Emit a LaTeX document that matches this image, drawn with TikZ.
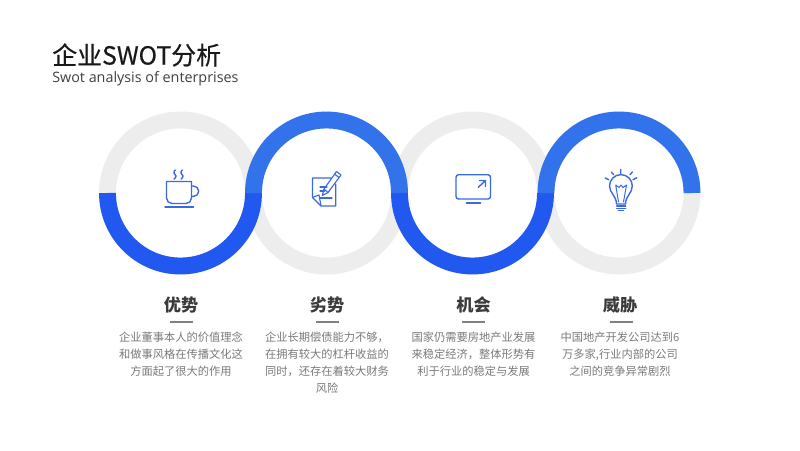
\documentclass[tikz,border=0pt]{standalone}
\usepackage{fontspec}
\setmainfont{Noto Sans CJK SC}
\newfontfamily\latinfont{Open Sans}
\newfontfamily\titlefont[FakeBold=0.4]{Noto Sans CJK SC}
\definecolor{ringgray}{HTML}{EDEDED}
\definecolor{arctop}{HTML}{3273EC}
\definecolor{arclow}{HTML}{2058F0}
\definecolor{iconblue}{HTML}{3A69E0}
\definecolor{headtext}{HTML}{3C3A3A}
\definecolor{bodytext}{HTML}{7A7A7A}
\tikzset{
  ringback/.style={draw=ringgray,circle,line width=12pt,minimum size=3.65cm,inner sep=0pt,outer sep=0pt},
  toparc/.style={draw=arctop,line width=12pt},
  lowarc/.style={draw=arclow,line width=12pt},
  icon/.style={draw=iconblue,line width=1pt,line cap=round,line join=round},
  head/.style={text=headtext,font=\fontsize{12.2}{14}\selectfont\bfseries},
  body/.style={text=bodytext,font=\fontsize{8}{12}\selectfont,align=center,anchor=north,inner sep=0pt},
  headrule/.style={draw=black!50,line width=0.8pt}
}
\begin{document}
\begin{tikzpicture}[x=0.025cm,y=0.025cm]
\useasboundingbox (0,0) rectangle (800,450);
\fill[white] (0,0) rectangle (800,450);
% title
\node[anchor=west,inner sep=0pt,text=black!90,font=\fontsize{17.7}{20}\selectfont\titlefont] (title) at (52,395) {企业SWOT分析};
\node[anchor=west,inner sep=0pt,text=black!75,font=\fontsize{10.2}{13}\selectfont\latinfont] (subtitle) at (52,371) {Swot analysis of enterprises};
% rings
\node[ringback] (ring1) at (180.5,257) {};
\node[ringback] (ring2) at (326.5,257) {};
\node[ringback] (ring3) at (472.5,257) {};
\node[ringback] (ring4) at (619,257) {};
\draw[lowarc] (ring1.west) arc[start angle=180,end angle=360,radius=73];
\draw[toparc] (ring2.west) arc[start angle=180,end angle=0,radius=73];
\draw[lowarc] (ring3.west) arc[start angle=180,end angle=360,radius=73];
\draw[toparc] (ring4.west) arc[start angle=180,end angle=0,radius=73];
% cup
\draw[icon] (166.5,268.5) -- (191.5,268.5) -- (191.5,252) to[out=-90,in=0] (186,246.5) -- (172,246.5) to[out=180,in=-90] (166.5,252) -- cycle;
\draw[icon] (191.5,264) -- (193.5,264) arc[start angle=90,end angle=-90,radius=5.2] -- (191.5,253.6);
\draw[icon] (165,243) -- (193.5,243);
\draw[icon] (175.5,280) to[out=200,in=90] (174,277) to[out=-90,in=90] (176,274) to[out=-90,in=30] (174,271);
\draw[icon] (182.5,280) to[out=200,in=90] (181,277) to[out=-90,in=90] (183,274) to[out=-90,in=30] (181,271);
% note and pencil
\draw[icon,line width=0.8pt] (331,272) -- (312.5,272) -- (312.5,252.5) -- (321,244) -- (335.7,244) -- (335.7,266);
\draw[icon,line width=0.8pt] (312.5,252.5) -- (319,255) -- (321,244);
\draw[icon,line width=0.8pt] (320,263) -- (327,263) (320,259) -- (324.5,259) (320,252) -- (332,252);
\draw[icon,line width=0.8pt] (322.3,254.5) -- (324,261) -- (336.5,278.5) -- (341,275) -- (328,257.5) -- cycle;
\draw[icon,line width=0.8pt] (324,261) -- (328,257.5) (334.5,276) -- (339,272.5);
% monitor
\draw[icon,rounded corners=1.8pt] (456,275.3) rectangle (490.5,251);
\draw[icon,line width=1.3pt] (466.5,247.3) -- (480.5,247.3);
\draw[icon] (478.3,262.7) -- (485.5,269.5) (479.5,269.5) -- (485.5,269.5) -- (485.5,263.5);
% bulb
\draw[icon] (616.5,246) .. controls (616.5,254) and (609.5,257) .. (609.5,264) arc[start angle=180,end angle=0,radius=11.4] .. controls (632.3,257) and (625.5,254) .. (625.5,246) -- cycle;
\draw[icon,line width=0.7pt] (618.5,248) -- (615.7,265) -- (619,262.5) -- (621,265) -- (623,262.5) -- (626.5,265) -- (623.5,248);
\draw[icon] (616.7,244) -- (625.7,244) (616.7,241.5) -- (625.7,241.5);
\draw[icon,line width=1.3pt] (618.5,239.5) -- (623.5,239.5);
\draw[icon] (620.7,276.5) -- (620.7,280.7) (611.3,278) -- (613.7,275.3) (630,275.3) -- (632.3,278) (605.3,272) -- (608.7,270.3) (633,270.3) -- (636.7,272.3);
% labels
\node[head] (name1) at (181,145) {优势};
\node[head] (name2) at (327,145) {劣势};
\node[head] (name3) at (473.5,145) {机会};
\node[head] (name4) at (620,145) {威胁};
\draw[headrule] (170,128) -- (193,128);
\draw[headrule] (315.5,128) -- (338.5,128);
\draw[headrule] (462,128) -- (485,128);
\draw[headrule] (609.5,128) -- (632.5,128);
\node[body] (text1) at (181,118) {企业董事本人的价值理念\\和做事风格在传播文化这\\方面起了很大的作用};
\node[body] (text2) at (327,118) {企业长期偿债能力不够，\\在拥有较大的杠杆收益的\\同时，还存在着较大财务\\风险};
\node[body] (text3) at (473.5,118) {国家仍需要房地产业发展\\来稳定经济，整体形势有\\利于行业的稳定与发展};
\node[body] (text4) at (620,118) {中国地产开发公司达到6\\万多家,行业内部的公司\\之间的竞争异常剧烈};
\end{tikzpicture}
\end{document}
